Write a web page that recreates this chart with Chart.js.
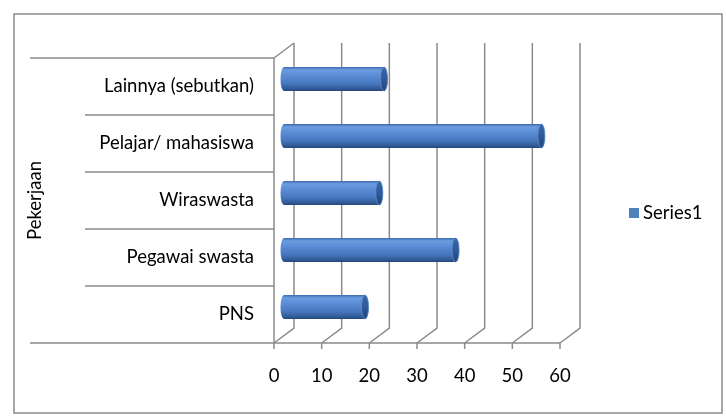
<!DOCTYPE html>
<html lang="id">
<head>
  <meta charset="UTF-8">
  <title>Pekerjaan</title>
  <script src="https://cdn.jsdelivr.net/npm/chart.js"></script>
  <style>
    body {
      margin: 0;
      padding: 0;
      background: #fff;
    }
    #wrap {
      width: 726px;
      height: 418px;
    }
  </style>
</head>
<body>
  <div id="wrap"><canvas id="chart" width="726" height="418"></canvas></div>
  <script>
    // data, top row first
    const categories = ['Lainnya (sebutkan)', 'Pelajar/ mahasiswa', 'Wiraswasta', 'Pegawai swasta', 'PNS'];
    const series1 = [21, 54, 20, 36, 17];
    const seriesName = 'Series1';
    const axisTitle = 'Pekerjaan';
    const xMin = 0, xMax = 60, xStep = 10;

    // 3d look: back wall offset and bar depth offset
    const DEPTH_X = 20, DEPTH_Y = -15;
    const BAR_X = 10, BAR_Y = -7.5;
    const LINE = '#8a8a8a';
    const FONT = 'Lato, "Open Sans", sans-serif';
    const FONT_SIZE = 18.5;

    Chart.defaults.font.family = FONT;
    Chart.defaults.font.size = FONT_SIZE;
    Chart.defaults.color = '#000';

    const frame3d = {
      id: 'frame3d',
      beforeDatasetsDraw(chart) {
        const ctx = chart.ctx;
        const xs = chart.scales.x;
        const {left, top, bottom} = chart.chartArea;
        ctx.save();
        ctx.strokeStyle = LINE;
        ctx.lineWidth = 1.5;

        // outer border
        ctx.strokeRect(14, 14, 708, 399);

        // back wall gridlines and floor diagonals
        for (let v = xMin; v <= xMax; v += xStep) {
          const px = xs.getPixelForValue(v);
          ctx.beginPath();
          ctx.moveTo(px + DEPTH_X, top + DEPTH_Y);
          ctx.lineTo(px + DEPTH_X, bottom + DEPTH_Y);
          ctx.lineTo(px, bottom);
          ctx.lineTo(px, bottom + 6);
          ctx.stroke();
        }
        // front axis line
        ctx.beginPath();
        ctx.moveTo(left, bottom);
        ctx.lineTo(xs.getPixelForValue(xMax), bottom);
        ctx.stroke();

        // left wall
        ctx.beginPath();
        ctx.moveTo(left + DEPTH_X, top + DEPTH_Y);
        ctx.lineTo(left, top);
        ctx.lineTo(left, bottom);
        ctx.stroke();

        // category separators
        const band = (bottom - top) / categories.length;
        for (let i = 0; i <= categories.length; i++) {
          const y = top + i * band;
          const start = (i === 0 || i === categories.length) ? 30 : 85;
          ctx.beginPath();
          ctx.moveTo(start, y);
          ctx.lineTo(left, y);
          ctx.stroke();
        }

        // legend
        const ds = chart.data.datasets[0];
        ctx.fillStyle = ds.backgroundColor;
        ctx.fillRect(629, 208, 10, 10);
        ctx.fillStyle = '#000';
        ctx.font = FONT_SIZE + 'px ' + FONT;
        ctx.textBaseline = 'middle';
        ctx.textAlign = 'left';
        ctx.fillText(ds.label, 643, 213);
        ctx.restore();
      }
    };

    const cylinderBars = {
      id: 'cylinderBars',
      beforeDatasetDraw(chart, args) {
        const ctx = chart.ctx;
        args.meta.data.forEach(bar => {
          const p = bar.getProps(['x', 'y', 'base', 'height'], true);
          const x0 = p.base + BAR_X, x1 = p.x + BAR_X, cy = p.y + BAR_Y;
          const ry = p.height / 2, rx = 3.5;
          ctx.save();
          const g = ctx.createLinearGradient(0, cy - ry, 0, cy + ry);
          g.addColorStop(0, '#3c6aad');
          g.addColorStop(0.12, '#6c9ce0');
          g.addColorStop(0.35, '#5b8dd6');
          g.addColorStop(0.7, '#4676bd');
          g.addColorStop(0.92, '#2f5893');
          g.addColorStop(1, '#24467a');
          ctx.beginPath();
          ctx.moveTo(x0, cy - ry);
          ctx.lineTo(x1, cy - ry);
          ctx.ellipse(x1, cy, rx, ry, 0, -Math.PI / 2, Math.PI / 2);
          ctx.lineTo(x0, cy + ry);
          ctx.ellipse(x0, cy, rx, ry, 0, Math.PI / 2, Math.PI * 1.5);
          ctx.closePath();
          ctx.fillStyle = g;
          ctx.fill();

          const c = ctx.createLinearGradient(0, cy - ry, 0, cy + ry);
          c.addColorStop(0, '#3a67a8');
          c.addColorStop(0.5, '#30599a');
          c.addColorStop(1, '#234578');
          ctx.beginPath();
          ctx.ellipse(x1, cy, rx, ry, 0, 0, Math.PI * 2);
          ctx.fillStyle = c;
          ctx.fill();
          ctx.strokeStyle = '#5f8bcc';
          ctx.lineWidth = 0.8;
          ctx.stroke();
          ctx.restore();
        });
        return false;
      }
    };

    new Chart(document.getElementById('chart'), {
      type: 'bar',
      data: {
        labels: categories,
        datasets: [{
          label: seriesName,
          data: series1,
          backgroundColor: '#4f81bd',
          barThickness: 24
        }]
      },
      options: {
        indexAxis: 'y',
        responsive: false,
        animation: false,
        layout: { padding: { left: 0, right: 166, top: 58, bottom: 0 } },
        plugins: {
          legend: { display: false },
          tooltip: { enabled: false }
        },
        scales: {
          x: {
            min: xMin,
            max: xMax,
            grid: { display: false, drawTicks: false },
            border: { display: false },
            ticks: { stepSize: xStep, padding: 22, maxRotation: 0 },
            afterFit(scale) { scale.height = 75; }
          },
          y: {
            grid: { display: false, drawTicks: false },
            border: { display: false },
            ticks: { padding: 20 },
            title: { display: true, text: axisTitle, padding: { top: 24, bottom: 0 } },
            afterFit(scale) { scale.width = 274; }
          }
        }
      },
      plugins: [frame3d, cylinderBars]
    });
  </script>
</body>
</html>
